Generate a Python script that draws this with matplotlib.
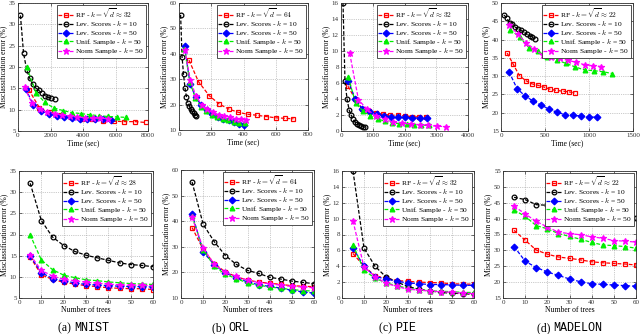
import matplotlib
matplotlib.use("Agg")
import matplotlib.pyplot as plt

plt.rcParams['font.family'] = ['Liberation Serif', 'DejaVu Serif']
plt.rcParams['mathtext.fontset'] = 'cm'

# number of trees (x of the bottom row)
trees = [5, 10, 15, 20, 25, 30, 35, 40, 45, 50, 55, 60]

series_names = ['RF', 'Lev10', 'Lev50', 'Unif', 'Norm']

# ---- MNIST ----
mnist_err = {
    'RF':    [14.7, 10.5, 9.4, 8.7, 8.3, 7.9, 7.7, 7.4, 7.3, 7.2, 7.2, 7.0],
    'Lev10': [32.1, 23.3, 19.4, 17.4, 16.0, 15.1, 14.5, 13.9, 13.3, 12.9, 12.7, 12.4],
    'Lev50': [14.9, 11.0, 9.6, 9.0, 8.6, 8.2, 8.1, 7.9, 7.8, 7.7, 7.7, 7.6],
    'Unif':  [19.9, 14.0, 11.7, 10.4, 9.8, 9.3, 9.1, 8.8, 8.6, 8.4, 8.3, 8.2],
    'Norm':  [15.2, 11.5, 10.2, 9.4, 9.1, 8.7, 8.5, 8.3, 8.1, 8.0, 8.0, 7.9],
}
mnist_time = {
    'RF':    [660, 1310, 1960, 2620, 3270, 3920, 4580, 5230, 5880, 6540, 7190, 7850],
    'Lev10': [150, 340, 530, 720, 900, 1090, 1280, 1470, 1660, 1850, 2040, 2250],
    'Lev50': [475, 950, 1425, 1900, 2375, 2850, 3325, 3800, 4275, 4750, 5225, 5700],
    'Unif':  [550, 1100, 1650, 2200, 2760, 3310, 3860, 4410, 4960, 5520, 6070, 6620],
    'Norm':  [400, 860, 1330, 1800, 2260, 2730, 3190, 3660, 4120, 4590, 5060, 5540],
}

# ---- ORL ----
orl_err = {
    'RF':    [37.5, 29.0, 23.4, 20.2, 18.3, 17.0, 16.2, 15.8, 15.3, 14.8, 14.6, 14.4],
    'Lev10': [55.3, 38.8, 32.0, 26.6, 23.1, 20.8, 19.6, 18.1, 17.4, 16.6, 16.1, 15.6],
    'Lev50': [43.0, 28.0, 23.0, 19.8, 18.0, 16.2, 15.2, 14.5, 13.9, 13.0, 12.4, 11.9],
    'Unif':  [42.0, 28.8, 22.5, 19.2, 17.6, 15.8, 15.0, 14.3, 13.8, 13.3, 12.9, 12.7],
    'Norm':  [41.5, 29.5, 23.2, 20.0, 18.4, 17.0, 16.0, 15.6, 15.0, 14.5, 14.3, 14.0],
}
orl_time = {
    'RF':    [62, 121, 189, 250, 307, 365, 425, 483, 541, 599, 659, 710],
    'Lev10': [10, 19, 28, 37, 46, 55, 64, 73, 82, 91, 99, 108],
    'Lev50': [35, 69, 103, 137, 171, 205, 239, 273, 307, 341, 375, 405],
    'Unif':  [34, 68, 102, 136, 170, 204, 238, 272, 306, 340, 374, 408],
    'Norm':  [36, 71, 106, 141, 176, 211, 246, 281, 316, 351, 386, 418],
}

# ---- PIE ----
pie_err = {
    'RF':    [5.6, 4.0, 2.8, 2.5, 2.2, 2.1, 2.0, 1.95, 1.9, 1.8, 1.75, 1.75],
    'Lev10': [16.0, 6.3, 4.0, 2.65, 2.0, 1.45, 1.1, 0.9, 0.7, 0.6, 0.55, 0.45],
    'Lev50': [6.3, 4.0, 2.7, 2.4, 2.1, 1.9, 1.8, 1.7, 1.7, 1.65, 1.6, 1.6],
    'Unif':  [6.7, 3.5, 2.5, 1.9, 1.55, 1.2, 1.05, 0.9, 0.85, 0.8, 0.7, 0.7],
    'Norm':  [9.7, 3.9, 2.7, 1.85, 1.45, 1.1, 1.0, 0.85, 0.8, 0.7, 0.6, 0.55],
}
pie_time = {
    'RF':    [220, 445, 665, 890, 1110, 1335, 1555, 1780, 2000, 2225, 2450, 2670],
    'Lev10': [63, 125, 190, 255, 320, 385, 445, 510, 575, 640, 700, 765],
    'Lev50': [225, 450, 675, 900, 1125, 1350, 1575, 1800, 2025, 2250, 2475, 2700],
    'Unif':  [230, 460, 690, 920, 1150, 1380, 1610, 1840, 2070, 2300, 2530, 2760],
    'Norm':  [275, 550, 825, 1100, 1375, 1650, 1925, 2200, 2475, 2750, 3025, 3300],
}

# ---- MADELON ----
madelon_err = {
    'RF':    [36.3, 33.2, 30.1, 28.8, 27.9, 27.5, 27.0, 26.4, 26.1, 25.9, 25.7, 25.4],
    'Lev10': [46.7, 46.0, 44.4, 44.2, 43.4, 43.0, 42.5, 42.0, 41.5, 41.0, 40.7, 40.2],
    'Lev50': [31.2, 26.6, 24.6, 23.2, 22.1, 21.0, 20.1, 19.5, 19.3, 19.1, 18.9, 18.7],
    'Unif':  [42.7, 40.7, 37.8, 36.8, 35.3, 34.4, 33.5, 32.5, 31.7, 31.5, 31.2, 30.7],
    'Norm':  [43.9, 41.5, 39.1, 37.4, 35.7, 35.3, 34.9, 34.3, 33.8, 33.1, 32.9, 32.6],
}
madelon_time = {
    'RF':    [70, 140, 210, 280, 350, 420, 490, 560, 630, 700, 770, 840],
    'Lev10': [32, 65, 97, 130, 162, 195, 227, 260, 292, 325, 357, 390],
    'Lev50': [91, 182, 273, 364, 455, 546, 637, 728, 819, 910, 1001, 1093],
    'Unif':  [105, 211, 316, 422, 527, 633, 738, 844, 949, 1055, 1160, 1266],
    'Norm':  [95, 190, 285, 380, 475, 570, 665, 760, 855, 950, 1045, 1142],
}

rf_labels_top = ['\\approx 32', '= 64', '\\approx 32', '\\approx 22']
rf_labels_bot = ['\\approx 28', '= 64', '\\approx 32', '\\approx 22']
captions = [('(a)', 'MNIST'), ('(b)', 'ORL'), ('(c)', 'PIE'), ('(d)', 'MADELON')]

styles = {
    'RF':    dict(color='#ff0000', marker='s', mfc='none'),
    'Lev10': dict(color='#000000', marker='o', mfc='none'),
    'Lev50': dict(color='#0000ff', marker='D', mfc='#0000ff'),
    'Unif':  dict(color='#00ee00', marker='^', mfc='#00ee00'),
    'Norm':  dict(color='#ff00ff', marker='*', mfc='#ff00ff'),
}


def rect(l, r, t, b):
    return [l / 640, 1 - b / 334, (r - l) / 640, (b - t) / 334]


def draw(ax, xs, errs, rf_txt, xlim, xstep, ylim, ystep, xlabel):
    labels = {
        'RF': 'RF - $k = \\sqrt{d} ' + rf_txt + '$',
        'Lev10': 'Lev. Scores - $k$ = 10',
        'Lev50': 'Lev. Scores - $k$ = 50',
        'Unif': 'Unif. Sample - $k$ = 50',
        'Norm': 'Norm Sample - $k$ = 50',
    }
    for name in series_names:
        st = styles[name]
        ms = 5 if name == 'Norm' else 3.4
        ax.plot(xs[name], errs[name], linestyle='--', lw=0.9, color=st['color'],
                marker=st['marker'], mfc=st['mfc'], mec=st['color'], mew=0.9,
                ms=ms, label=labels[name], dashes=(3, 1.5))
    ax.set_xlim(*xlim)
    ax.set_ylim(*ylim)
    ax.set_xticks(range(xlim[0], xlim[1] + 1, xstep))
    ax.set_yticks(range(ylim[0], ylim[1] + 1, ystep))
    ax.grid(True, linestyle=':', color='#999999', lw=0.5)
    ax.tick_params(direction='in', length=2, width=0.5, labelsize=5, pad=1.5,
                   top=True, right=True, colors='#333333')
    for s in ax.spines.values():
        s.set_linewidth(0.6)
        s.set_color('#333333')
    ax.set_xlabel(xlabel, fontsize=5.5, labelpad=0.5)
    ax.set_ylabel('Misclassification error (%)', fontsize=5.5, labelpad=1)
    leg = ax.legend(loc='upper right', fontsize=5.4, handlelength=2.0,
                    handletextpad=0.3, labelspacing=-0.05, borderpad=0.2,
                    borderaxespad=0.25, fancybox=False, framealpha=1,
                    handleheight=0.6)
    leg.get_frame().set_edgecolor('#333333')
    leg.get_frame().set_linewidth(0.6)


fig = plt.figure(figsize=(6.4, 3.34), dpi=100)

top_pos = [(18, 148, 3, 131), (179, 308, 3, 130), (341, 468, 3, 131), (501, 633, 3, 131)]
bot_pos = [(19, 153, 171, 298), (181, 314, 170, 298), (342, 474, 171, 298), (503, 636, 171, 298)]

times = [mnist_time, orl_time, pie_time, madelon_time]
errs = [mnist_err, orl_err, pie_err, madelon_err]
top_x = [(0, 8000, 2000), (0, 800, 200), (0, 4000, 1000), (0, 1500, 500)]
top_y = [(5, 35, 5), (10, 60, 10), (0, 16, 2), (15, 50, 5)]
bot_y = [(5, 35, 5), (10, 60, 10), (0, 16, 2), (15, 55, 5)]

for i in range(4):
    ax = fig.add_axes(rect(*top_pos[i]))
    x0, x1, xs = top_x[i]
    y0, y1, ys = top_y[i]
    draw(ax, times[i], errs[i], rf_labels_top[i], (x0, x1), xs, (y0, y1), ys, 'Time (sec)')

    ax = fig.add_axes(rect(*bot_pos[i]))
    y0, y1, ys = bot_y[i]
    tr = {k: trees for k in series_names}
    draw(ax, tr, errs[i], rf_labels_bot[i], (0, 60), 10, (y0, y1), ys, 'Number of trees')

cap_x = [76, 230, 397, 555]
for i, (lab, name) in enumerate(captions):
    fig.text((cap_x[i] - 2) / 640, 1 - 328 / 334, lab + ' ', ha='right', va='center',
             fontsize=8.5, family=['Liberation Serif'])
    fig.text((cap_x[i] - 2) / 640, 1 - 328 / 334, name, ha='left', va='center',
             fontsize=8.5, family=['Liberation Mono'])

fig.savefig('out.png', dpi=100)
